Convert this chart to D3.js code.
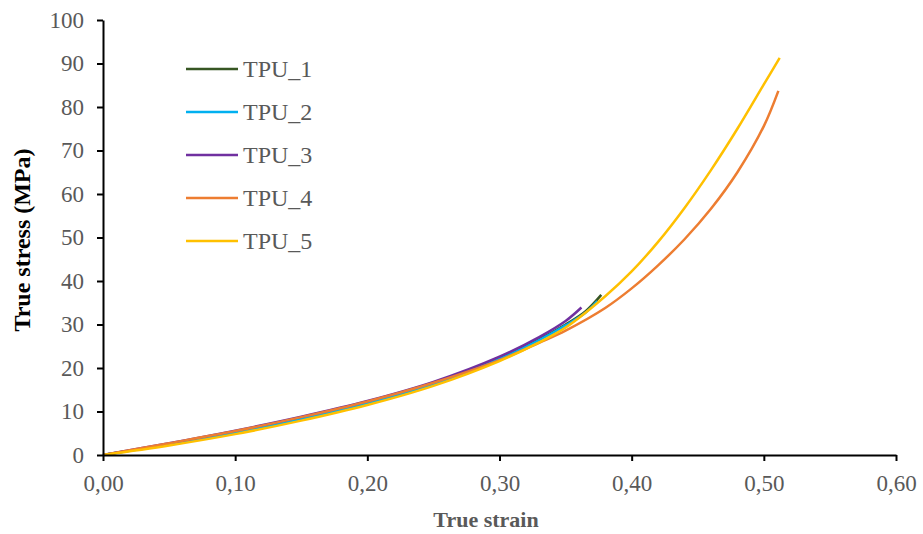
<!DOCTYPE html>
<html>
<head>
<meta charset="utf-8">
<script src="https://cdn.jsdelivr.net/npm/d3@7"></script>
<style>
  body { margin: 0; background: #fff; }
  text { font-family: "Liberation Serif", "Times New Roman", serif; }
</style>
</head>
<body>
<script>
// series names and colours
var names = ['TPU_1', 'TPU_2', 'TPU_3', 'TPU_4', 'TPU_5'];
var colors = ['#375623', '#00b0f0', '#7030a0', '#ed7d31', '#ffc000'];

// strain / stress
var strain1 = [0, 0.05, 0.10, 0.15, 0.20, 0.25, 0.30, 0.33, 0.35, 0.365, 0.377];
var stress1 = [0, 2.5, 5.2, 8.4, 12.0, 16.4, 22.2, 26.6, 30.0, 33.0, 36.8];
var strain2 = [0, 0.05, 0.10, 0.15, 0.20, 0.25, 0.30, 0.33, 0.35, 0.365, 0.374];
var stress2 = [0, 2.4, 5.1, 8.3, 11.9, 16.3, 22.1, 26.4, 29.8, 32.7, 35.4];
var strain3 = [0, 0.05, 0.10, 0.15, 0.20, 0.25, 0.30, 0.33, 0.35, 0.362];
var stress3 = [0, 2.7, 5.6, 8.8, 12.4, 16.8, 22.6, 27.1, 30.8, 33.9];
var strain4 = [0, 0.05, 0.10, 0.15, 0.20, 0.25, 0.30, 0.33, 0.35, 0.38, 0.40, 0.42, 0.44, 0.46, 0.48, 0.50, 0.511];
var stress4 = [0, 2.7, 5.5, 8.7, 12.3, 16.6, 21.8, 25.8, 28.6, 33.8, 38.3, 43.6, 49.6, 56.6, 65.0, 75.6, 83.7];
var strain5 = [0, 0.05, 0.10, 0.15, 0.20, 0.25, 0.30, 0.33, 0.35, 0.38, 0.40, 0.42, 0.44, 0.46, 0.48, 0.50, 0.512];
var stress5 = [0, 2.2, 4.8, 7.9, 11.5, 15.9, 21.6, 25.9, 29.3, 36.5, 42.2, 49.0, 56.8, 65.5, 75.0, 85.2, 91.3];

var xTicks = [0, 0.1, 0.2, 0.3, 0.4, 0.5, 0.6];
var yTicks = [0, 10, 20, 30, 40, 50, 60, 70, 80, 90, 100];

var strains = [strain1, strain2, strain3, strain4, strain5];
var stresses = [stress1, stress2, stress3, stress4, stress5];

var width = 923, height = 534;
var pLeft = 103, pRight = 896, pTop = 20, pBottom = 455;

var svg = d3.select('body').append('svg')
  .attr('width', width)
  .attr('height', height);

var x = d3.scaleLinear().domain([0, 0.6]).range([pLeft, pRight]);
var y = d3.scaleLinear().domain([0, 100]).range([pBottom, pTop]);

var fmt = function(d) { return d3.format('.2f')(d).replace('.', ','); };

// lines
var line = d3.line()
  .x(function(d) { return x(d[0]); })
  .y(function(d) { return y(d[1]); })
  .curve(d3.curveCatmullRom.alpha(0.5));

names.forEach(function(n, i) {
  var pts = strains[i].map(function(s, j) { return [s, stresses[i][j]]; });
  svg.append('path')
    .datum(pts)
    .attr('d', line)
    .attr('fill', 'none')
    .attr('stroke', colors[i])
    .attr('stroke-width', 2.5);
});

// axes
var xAxis = svg.append('g')
  .attr('transform', 'translate(0,' + pBottom + ')')
  .call(d3.axisBottom(x).tickValues(xTicks).tickFormat(fmt).tickSize(6).tickSizeOuter(0));
var yAxis = svg.append('g')
  .attr('transform', 'translate(' + pLeft + ',0)')
  .call(d3.axisLeft(y).tickValues(yTicks).tickSize(6).tickSizeOuter(0));

[xAxis, yAxis].forEach(function(g) {
  g.select('.domain').attr('stroke', '#000').attr('stroke-width', 2);
  g.selectAll('.tick line').attr('stroke', '#000').attr('stroke-width', 2);
  g.selectAll('.tick text')
    .attr('fill', '#595959')
    .style('font-size', '23px')
    .style('font-family', '"Liberation Serif", serif');
});
xAxis.selectAll('.tick text').attr('y', 20).attr('dy', '0.71em');
yAxis.selectAll('.tick text').attr('x', -19);

// axis titles
svg.append('text')
  .attr('x', 486)
  .attr('y', 527)
  .attr('text-anchor', 'middle')
  .attr('font-weight', 'bold')
  .attr('font-size', 22)
  .attr('fill', '#595959')
  .text('True strain');

svg.append('text')
  .attr('transform', 'translate(30,240) rotate(-90)')
  .attr('text-anchor', 'middle')
  .attr('font-weight', 'bold')
  .attr('font-size', 24)
  .attr('fill', '#000')
  .text('True stress (MPa)');

// legend
var legend = svg.append('g');
names.forEach(function(n, i) {
  var ly = 69 + i * 43;
  legend.append('line')
    .attr('x1', 186).attr('x2', 238)
    .attr('y1', ly).attr('y2', ly)
    .attr('stroke', colors[i])
    .attr('stroke-width', 2.5);
  legend.append('text')
    .attr('x', 243)
    .attr('y', ly + 8)
    .attr('font-size', 24)
    .attr('fill', '#595959')
    .text(n);
});
</script>
</body>
</html>
